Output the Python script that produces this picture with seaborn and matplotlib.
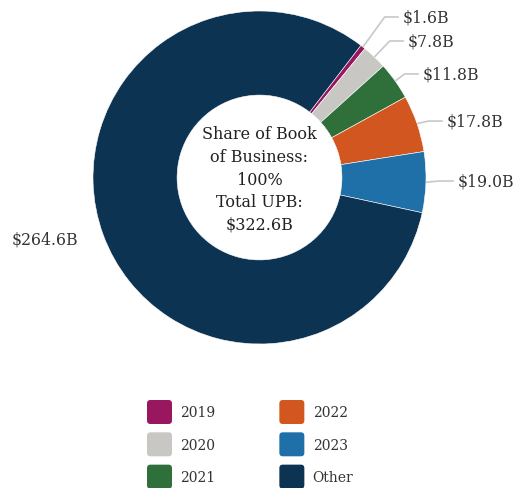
import numpy as np
import matplotlib
matplotlib.use("Agg")
import matplotlib.pyplot as plt
from matplotlib.patches import FancyBboxPatch, Patch
from matplotlib.legend_handler import HandlerPatch
import seaborn as sns

# Unpaid principal balance by origination vintage ($ billions)
vintages = ["2019", "2020", "2021", "2022", "2023", "Other"]
upb_billions = [1.6, 7.8, 11.8, 17.8, 19.0, 264.6]
colors = ["#98175E", "#C9C7C3", "#2F6F3A", "#D2561F", "#1F70A9", "#0C3352"]
total_upb = 322.6
share_pct = 100

# label anchor points (pie-radius units)
label_pos = [(0.862, 0.964), (0.892, 0.820), (0.982, 0.622),
             (1.126, 0.339), (1.192, -0.021), (-1.090, -0.369)]

sns.set_theme(style="white")
plt.rcParams["font.family"] = ["DejaVu Serif"]

W, H = 517, 489
cx, cy, R = 259.5, 178.5, 166.5
fig = plt.figure(figsize=(W / 100, H / 100), dpi=100)
ax = fig.add_axes([0, 0, 1, 1])

start = 90 - 37.5
wedges, _ = ax.pie(upb_billions, colors=colors, startangle=start, counterclock=False,
                   radius=1.0, wedgeprops=dict(width=0.505, edgecolor="white", linewidth=0.4))
ax.set_xlim(-cx / R, (W - cx) / R)
ax.set_ylim(-(H - cy) / R, cy / R)
ax.set_aspect("equal", adjustable="datalim")
ax.axis("off")

# value labels with elbow connectors
cum = np.cumsum([0] + upb_billions[:-1])
tot = sum(upb_billions)
for i, (v, c0) in enumerate(zip(upb_billions, cum)):
    mid = np.deg2rad(start - (c0 + v / 2) / tot * 360)
    ex, ey = np.cos(mid), np.sin(mid)
    lx, ly = label_pos[i]
    text = f"${v:.1f}B"
    if lx > 0:
        bx = max(lx - 0.11, ex)
        ax.plot([ex, bx, lx - 0.025], [ey, ly, ly], color="#C8C8C8", lw=1.2,
                solid_capstyle="butt", zorder=1)
        ax.text(lx, ly, text, ha="left", va="center", fontsize=11.3, color="#333333")
    else:
        ax.text(lx, ly, text, ha="right", va="center", fontsize=11.3, color="#333333")

ax.text(0, -0.01, f"Share of Book\nof Business:\n{share_pct}%\nTotal UPB:\n${total_upb:.1f}B",
        ha="center", va="center", fontsize=11.5, color="#222222", linespacing=1.43)


def rounded_box(legend, orig_handle, xdescent, ydescent, width, height, fontsize):
    return FancyBboxPatch((-xdescent, -ydescent), width, height,
                          boxstyle="round,pad=0,rounding_size=2.5")


handles = [Patch(facecolor=c, edgecolor="none", label=l) for c, l in zip(colors, vintages)]
fig.legend(handles=handles, loc="upper left", bbox_to_anchor=(147 / W, 1 - 401 / H),
           ncol=2, frameon=False, fontsize=10, handlelength=1.8, handleheight=2.28,
           handletextpad=0.6, labelspacing=0.6, columnspacing=4.6,
           borderpad=0, borderaxespad=0, labelcolor="#333333",
           handler_map={Patch: HandlerPatch(patch_func=rounded_box)})

fig.savefig("out.png", dpi=100, facecolor="white")
